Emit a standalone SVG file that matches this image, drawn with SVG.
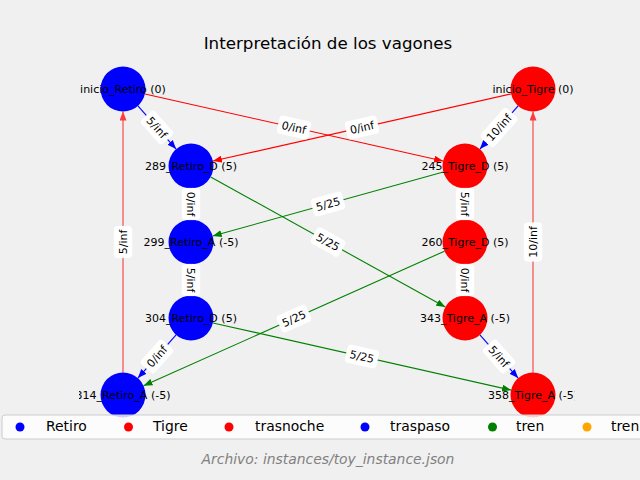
<svg xmlns="http://www.w3.org/2000/svg" width="640" height="480" viewBox="0 0 640 480">
<defs>
<style>
text{font-family:"DejaVu Sans","Liberation Sans",sans-serif;}
.title{font-size:16.7px;fill:#000;text-anchor:middle;}
.nl{font-size:11px;fill:#000;text-anchor:middle;}
.el{font-size:11px;fill:#000;text-anchor:middle;}
.lb{fill:#fff;stroke:#fff;stroke-width:1;}
.e{fill:none;stroke-width:1.1;}
.blue{stroke:#0000ff;}
.red{stroke:#ff0000;}
.green{stroke:#008000;}
.leg{font-size:13.9px;fill:#000;}
.foot{font-size:13.9px;fill:#808080;font-style:italic;text-anchor:middle;}
</style>
<marker id="ab" markerUnits="userSpaceOnUse" viewBox="0 0 9 7" markerWidth="9" markerHeight="7" refX="9" refY="3.5" orient="auto"><path d="M0,0 L9,3.5 L0,7 Z" fill="#0000ff"/></marker>
<marker id="ar" markerUnits="userSpaceOnUse" viewBox="0 0 9 7" markerWidth="9" markerHeight="7" refX="9" refY="3.5" orient="auto"><path d="M0,0 L9,3.5 L0,7 Z" fill="#ff0000"/></marker>
<marker id="ag" markerUnits="userSpaceOnUse" viewBox="0 0 9 7" markerWidth="9" markerHeight="7" refX="9" refY="3.5" orient="auto"><path d="M0,0 L9,3.5 L0,7 Z" fill="#008000"/></marker>
<clipPath id="ax"><rect x="79" y="55" width="496" height="380"/></clipPath>
</defs>
<rect width="640" height="480" fill="#f0f0f0"/>
<text class="title" x="328" y="49">Interpretación de los vagones</text>

<g id="connectors">
<line class="e blue" x1="191" y1="166" x2="191" y2="242"/>
<line class="e blue" x1="191" y1="242" x2="191" y2="318"/>
<line class="e blue" x1="465" y1="166" x2="465" y2="242"/>
<line class="e blue" x1="465" y1="242" x2="465" y2="318"/>
<line class="e blue" x1="137.9" y1="105.9" x2="176.1" y2="149.1" marker-end="url(#ab)"/>
<line class="e blue" x1="518.1" y1="105.9" x2="479.9" y2="149.1" marker-end="url(#ab)"/>
<line class="e blue" x1="176.1" y1="334.9" x2="137.9" y2="378.1" marker-end="url(#ab)"/>
<line class="e blue" x1="479.9" y1="334.9" x2="518.1" y2="378.1" marker-end="url(#ab)"/>
<line class="e red" x1="144.95" y1="93.94" x2="443.05" y2="161.06" marker-end="url(#ar)"/>
<line class="e red" x1="511.05" y1="93.94" x2="212.95" y2="161.06" marker-end="url(#ar)"/>
<line class="e green" x1="212.95" y1="322.94" x2="511.05" y2="390.06" marker-end="url(#ag)"/>
<line class="e green" x1="210.68" y1="176.91" x2="445.32" y2="307.09" marker-end="url(#ag)"/>
<line class="e green" x1="443.32" y1="172.01" x2="212.68" y2="235.99" marker-end="url(#ag)"/>
<line class="e green" x1="444.46" y1="251.19" x2="143.54" y2="385.81" marker-end="url(#ag)"/>
<g opacity="0.75">
<line class="e red" stroke-width="1.6" x1="123" y1="372.5" x2="123" y2="111.5" marker-end="url(#ar)"/>
<line class="e red" stroke-width="1.6" x1="533" y1="372.5" x2="533" y2="111.5" marker-end="url(#ar)"/>
</g>
</g>

<g id="n_inicio_Retiro"><circle cx="123" cy="89" r="22.5" fill="#0000ff"/></g>
<g id="n_289_Retiro_D"><circle cx="191" cy="166" r="22.5" fill="#0000ff"/></g>
<g id="n_299_Retiro_A"><circle cx="191" cy="242" r="22.5" fill="#0000ff"/></g>
<g id="n_304_Retiro_D"><circle cx="191" cy="318" r="22.5" fill="#0000ff"/></g>
<g id="n_314_Retiro_A"><circle cx="123" cy="395" r="22.5" fill="#0000ff"/></g>
<g id="n_inicio_Tigre"><circle cx="533" cy="89" r="22.5" fill="#ff0000"/></g>
<g id="n_245_Tigre_D"><circle cx="465" cy="166" r="22.5" fill="#ff0000"/></g>
<g id="n_260_Tigre_D"><circle cx="465" cy="242" r="22.5" fill="#ff0000"/></g>
<g id="n_343_Tigre_A"><circle cx="465" cy="318" r="22.5" fill="#ff0000"/></g>
<g id="n_358_Tigre_A"><circle cx="533" cy="395" r="22.5" fill="#ff0000"/></g>

<g id="node_labels" clip-path="url(#ax)">
<text class="nl" x="123" y="93">inicio_Retiro (0)</text>
<text class="nl" x="191" y="170">289_Retiro_D (5)</text>
<text class="nl" x="191" y="246">299_Retiro_A (-5)</text>
<text class="nl" x="191" y="322">304_Retiro_D (5)</text>
<text class="nl" x="123" y="399">314_Retiro_A (-5)</text>
<text class="nl" x="533" y="93">inicio_Tigre (0)</text>
<text class="nl" x="465" y="170">245_Tigre_D (5)</text>
<text class="nl" x="465" y="246">260_Tigre_D (5)</text>
<text class="nl" x="465" y="322">343_Tigre_A (-5)</text>
<text class="nl" x="533" y="399">358_Tigre_A (-5)</text>
</g>

<g id="edge_labels">
<g transform="translate(157,127.5) rotate(48.5)"><rect class="lb" x="-15.6" y="-8.7" width="31.2" height="17.4" rx="3"/><text class="el" y="4">5/inf</text></g>
<g transform="translate(294,127.5) rotate(12.7)"><rect class="lb" x="-15.6" y="-8.7" width="31.2" height="17.4" rx="3"/><text class="el" y="4">0/inf</text></g>
<g transform="translate(362,127.5) rotate(-12.7)"><rect class="lb" x="-15.6" y="-8.7" width="31.2" height="17.4" rx="3"/><text class="el" y="4">0/inf</text></g>
<g transform="translate(499,127.5) rotate(-48.5)"><rect class="lb" x="-19.1" y="-8.7" width="38.2" height="17.4" rx="3"/><text class="el" y="4">10/inf</text></g>
<g transform="translate(191,204) rotate(90)"><rect class="lb" x="-15.6" y="-8.7" width="31.2" height="17.4" rx="3"/><text class="el" y="4">0/inf</text></g>
<g transform="translate(465,204) rotate(90)"><rect class="lb" x="-15.6" y="-8.7" width="31.2" height="17.4" rx="3"/><text class="el" y="4">5/inf</text></g>
<g transform="translate(191,280) rotate(90)"><rect class="lb" x="-15.6" y="-8.7" width="31.2" height="17.4" rx="3"/><text class="el" y="4">5/inf</text></g>
<g transform="translate(465,280) rotate(90)"><rect class="lb" x="-15.6" y="-8.7" width="31.2" height="17.4" rx="3"/><text class="el" y="4">0/inf</text></g>
<g transform="translate(328,242) rotate(29)"><rect class="lb" x="-15.6" y="-8.7" width="31.2" height="17.4" rx="3"/><text class="el" y="4">5/25</text></g>
<g transform="translate(328,204) rotate(-15.5)"><rect class="lb" x="-15.6" y="-8.7" width="31.2" height="17.4" rx="3"/><text class="el" y="4">5/25</text></g>
<g transform="translate(294,318.5) rotate(-24.1)"><rect class="lb" x="-15.6" y="-8.7" width="31.2" height="17.4" rx="3"/><text class="el" y="4">5/25</text></g>
<g transform="translate(362,356.5) rotate(12.7)"><rect class="lb" x="-15.6" y="-8.7" width="31.2" height="17.4" rx="3"/><text class="el" y="4">5/25</text></g>
<g transform="translate(157,356.5) rotate(-48.5)"><rect class="lb" x="-15.6" y="-8.7" width="31.2" height="17.4" rx="3"/><text class="el" y="4">0/inf</text></g>
<g transform="translate(499,356.5) rotate(48.5)"><rect class="lb" x="-15.6" y="-8.7" width="31.2" height="17.4" rx="3"/><text class="el" y="4">5/inf</text></g>
<g transform="translate(123,242) rotate(-90)"><rect class="lb" x="-15.6" y="-8.7" width="31.2" height="17.4" rx="3"/><text class="el" y="4">5/inf</text></g>
<g transform="translate(533,242) rotate(-90)"><rect class="lb" x="-19.1" y="-8.7" width="38.2" height="17.4" rx="3"/><text class="el" y="4">10/inf</text></g>
</g>

<g id="legend">
<rect x="2" y="415" width="652" height="24" rx="3" fill="#ffffff" fill-opacity="0.8" stroke="#cccccc" stroke-width="1"/>
<circle cx="20" cy="427" r="4.5" fill="#0000ff"/><text class="leg" x="46" y="431">Retiro</text>
<circle cx="128.5" cy="427" r="4.5" fill="#ff0000"/><text class="leg" x="153" y="431">Tigre</text>
<circle cx="229" cy="427" r="4.5" fill="#ff0000"/><text class="leg" x="255" y="431">trasnoche</text>
<circle cx="365" cy="427" r="4.5" fill="#0000ff"/><text class="leg" x="390" y="431">traspaso</text>
<circle cx="492.5" cy="427" r="4.5" fill="#008000"/><text class="leg" x="516" y="431">tren</text>
<circle cx="587" cy="427" r="4.5" fill="#ffa500"/><text class="leg" x="611" y="431">tren</text>
</g>

<text class="foot" x="328" y="464">Archivo: instances/toy_instance.json</text>
</svg>
